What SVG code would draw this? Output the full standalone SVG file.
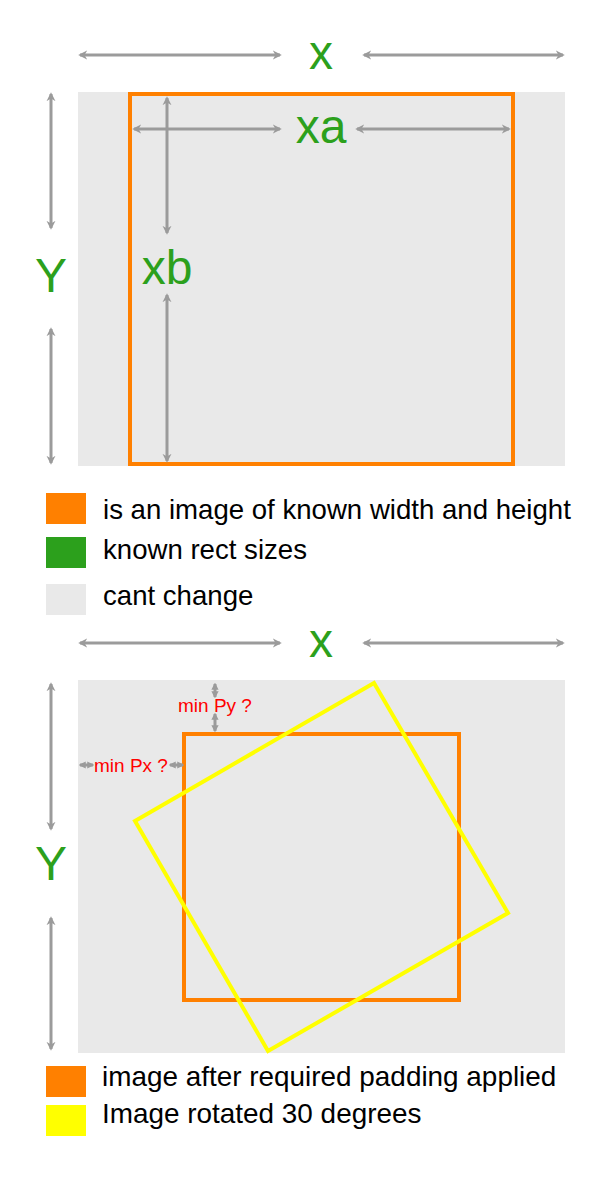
<svg xmlns="http://www.w3.org/2000/svg" width="600" height="1200" viewBox="0 0 600 1200">
<style>
.dim{stroke:#9b9b9b;stroke-width:3;fill:none;marker-start:url(#ah);marker-end:url(#ah)}
.dims{stroke:#9b9b9b;stroke-width:3;fill:none;marker-start:url(#ahs);marker-end:url(#ahs)}
.g{fill:#2ca01c;font-family:"Liberation Sans",Arial,sans-serif;text-anchor:middle}
.big{font-size:48px}
.leg{font-family:"Liberation Sans",Arial,sans-serif;font-size:27.6px;fill:#000}
.leg2{font-family:"Liberation Sans",Arial,sans-serif;font-size:27.9px;fill:#000}
.red{font-family:"Liberation Sans",Arial,sans-serif;font-size:19px;fill:#ff0000}
.bg{fill:#e9e9e9}
.img{fill:none;stroke:#ff8000;stroke-width:4}
</style>
<defs>
<marker id="ah" viewBox="0 0 10 10" refX="8" refY="5" markerWidth="3" markerHeight="3.2" orient="auto-start-reverse" markerUnits="strokeWidth">
<path d="M0,0 L10,5 L0,10 L3,5 Z" fill="#9b9b9b"/>
</marker>
<marker id="ahs" viewBox="0 0 10 10" refX="8" refY="5" markerWidth="2.4" markerHeight="2.8" orient="auto-start-reverse" markerUnits="strokeWidth">
<path d="M0,0 L10,5 L0,10 Z" fill="#9b9b9b"/>
</marker>
</defs>

<g id="top-area">
<rect class="bg" x="78" y="92" width="487" height="374"/>
<rect id="top-image" class="img" x="130" y="94" width="383" height="370"/>
</g>

<g id="connectors-top">
<line class="dim" x1="80" y1="55" x2="280" y2="55"/>
<line class="dim" x1="364" y1="55" x2="563" y2="55"/>
<line class="dim" x1="134" y1="129" x2="280" y2="129"/>
<line class="dim" x1="357" y1="129" x2="509" y2="129"/>
<line class="dim" x1="167" y1="98" x2="167" y2="233"/>
<line class="dim" x1="167" y1="295" x2="167" y2="461"/>
<line class="dim" x1="51" y1="94" x2="51" y2="228"/>
<line class="dim" x1="51" y1="329" x2="51" y2="463"/>
</g>

<g id="top-labels">
<text class="g big" x="321" y="69">x</text>
<text class="g big" x="321" y="143">xa</text>
<text class="g big" x="167" y="284">xb</text>
<text class="g big" x="51" y="292">Y</text>
</g>

<g id="legend-top">
<rect x="46" y="493" width="40" height="31" fill="#ff8000"/>
<text class="leg" x="103" y="519">is an image of known width and height</text>
<rect x="46" y="537" width="40" height="31" fill="#2ca01c"/>
<text class="leg" x="103" y="559">known rect sizes</text>
<rect x="46" y="584" width="40" height="31" fill="#e9e9e9"/>
<text class="leg" x="103" y="605">cant change</text>
</g>

<g id="bottom-area">
<rect class="bg" x="78" y="680" width="487" height="373"/>
<rect id="padded-image" class="img" x="184" y="734" width="275" height="266"/>
<polygon id="rotated-image" points="374,683 508,913 268,1051 135,821" fill="none" stroke="#ffff00" stroke-width="4"/>
</g>

<g id="connectors-bottom">
<line class="dim" x1="80" y1="643" x2="280" y2="643"/>
<line class="dim" x1="364" y1="643" x2="563" y2="643"/>
<line class="dim" x1="51" y1="684" x2="51" y2="829"/>
<line class="dim" x1="51" y1="918" x2="51" y2="1049"/>
<line class="dims" x1="215" y1="684" x2="215" y2="697"/>
<line class="dims" x1="215" y1="714" x2="215" y2="731"/>
<line class="dims" x1="80" y1="765" x2="93" y2="765"/>
<line class="dims" x1="170" y1="765" x2="183" y2="765"/>
</g>

<g id="bottom-labels">
<text class="g big" x="321" y="657">x</text>
<text class="g big" x="51" y="880">Y</text>
<text class="red" x="178" y="712">min Py ?</text>
<text class="red" x="94" y="772">min Px ?</text>
</g>

<g id="legend-bottom">
<rect x="46" y="1066" width="40" height="31" fill="#ff8000"/>
<text class="leg2" x="102" y="1086">image after required padding applied</text>
<rect x="46" y="1105" width="40" height="31" fill="#ffff00"/>
<text class="leg2" x="102" y="1123">Image rotated 30 degrees</text>
</g>
</svg>
